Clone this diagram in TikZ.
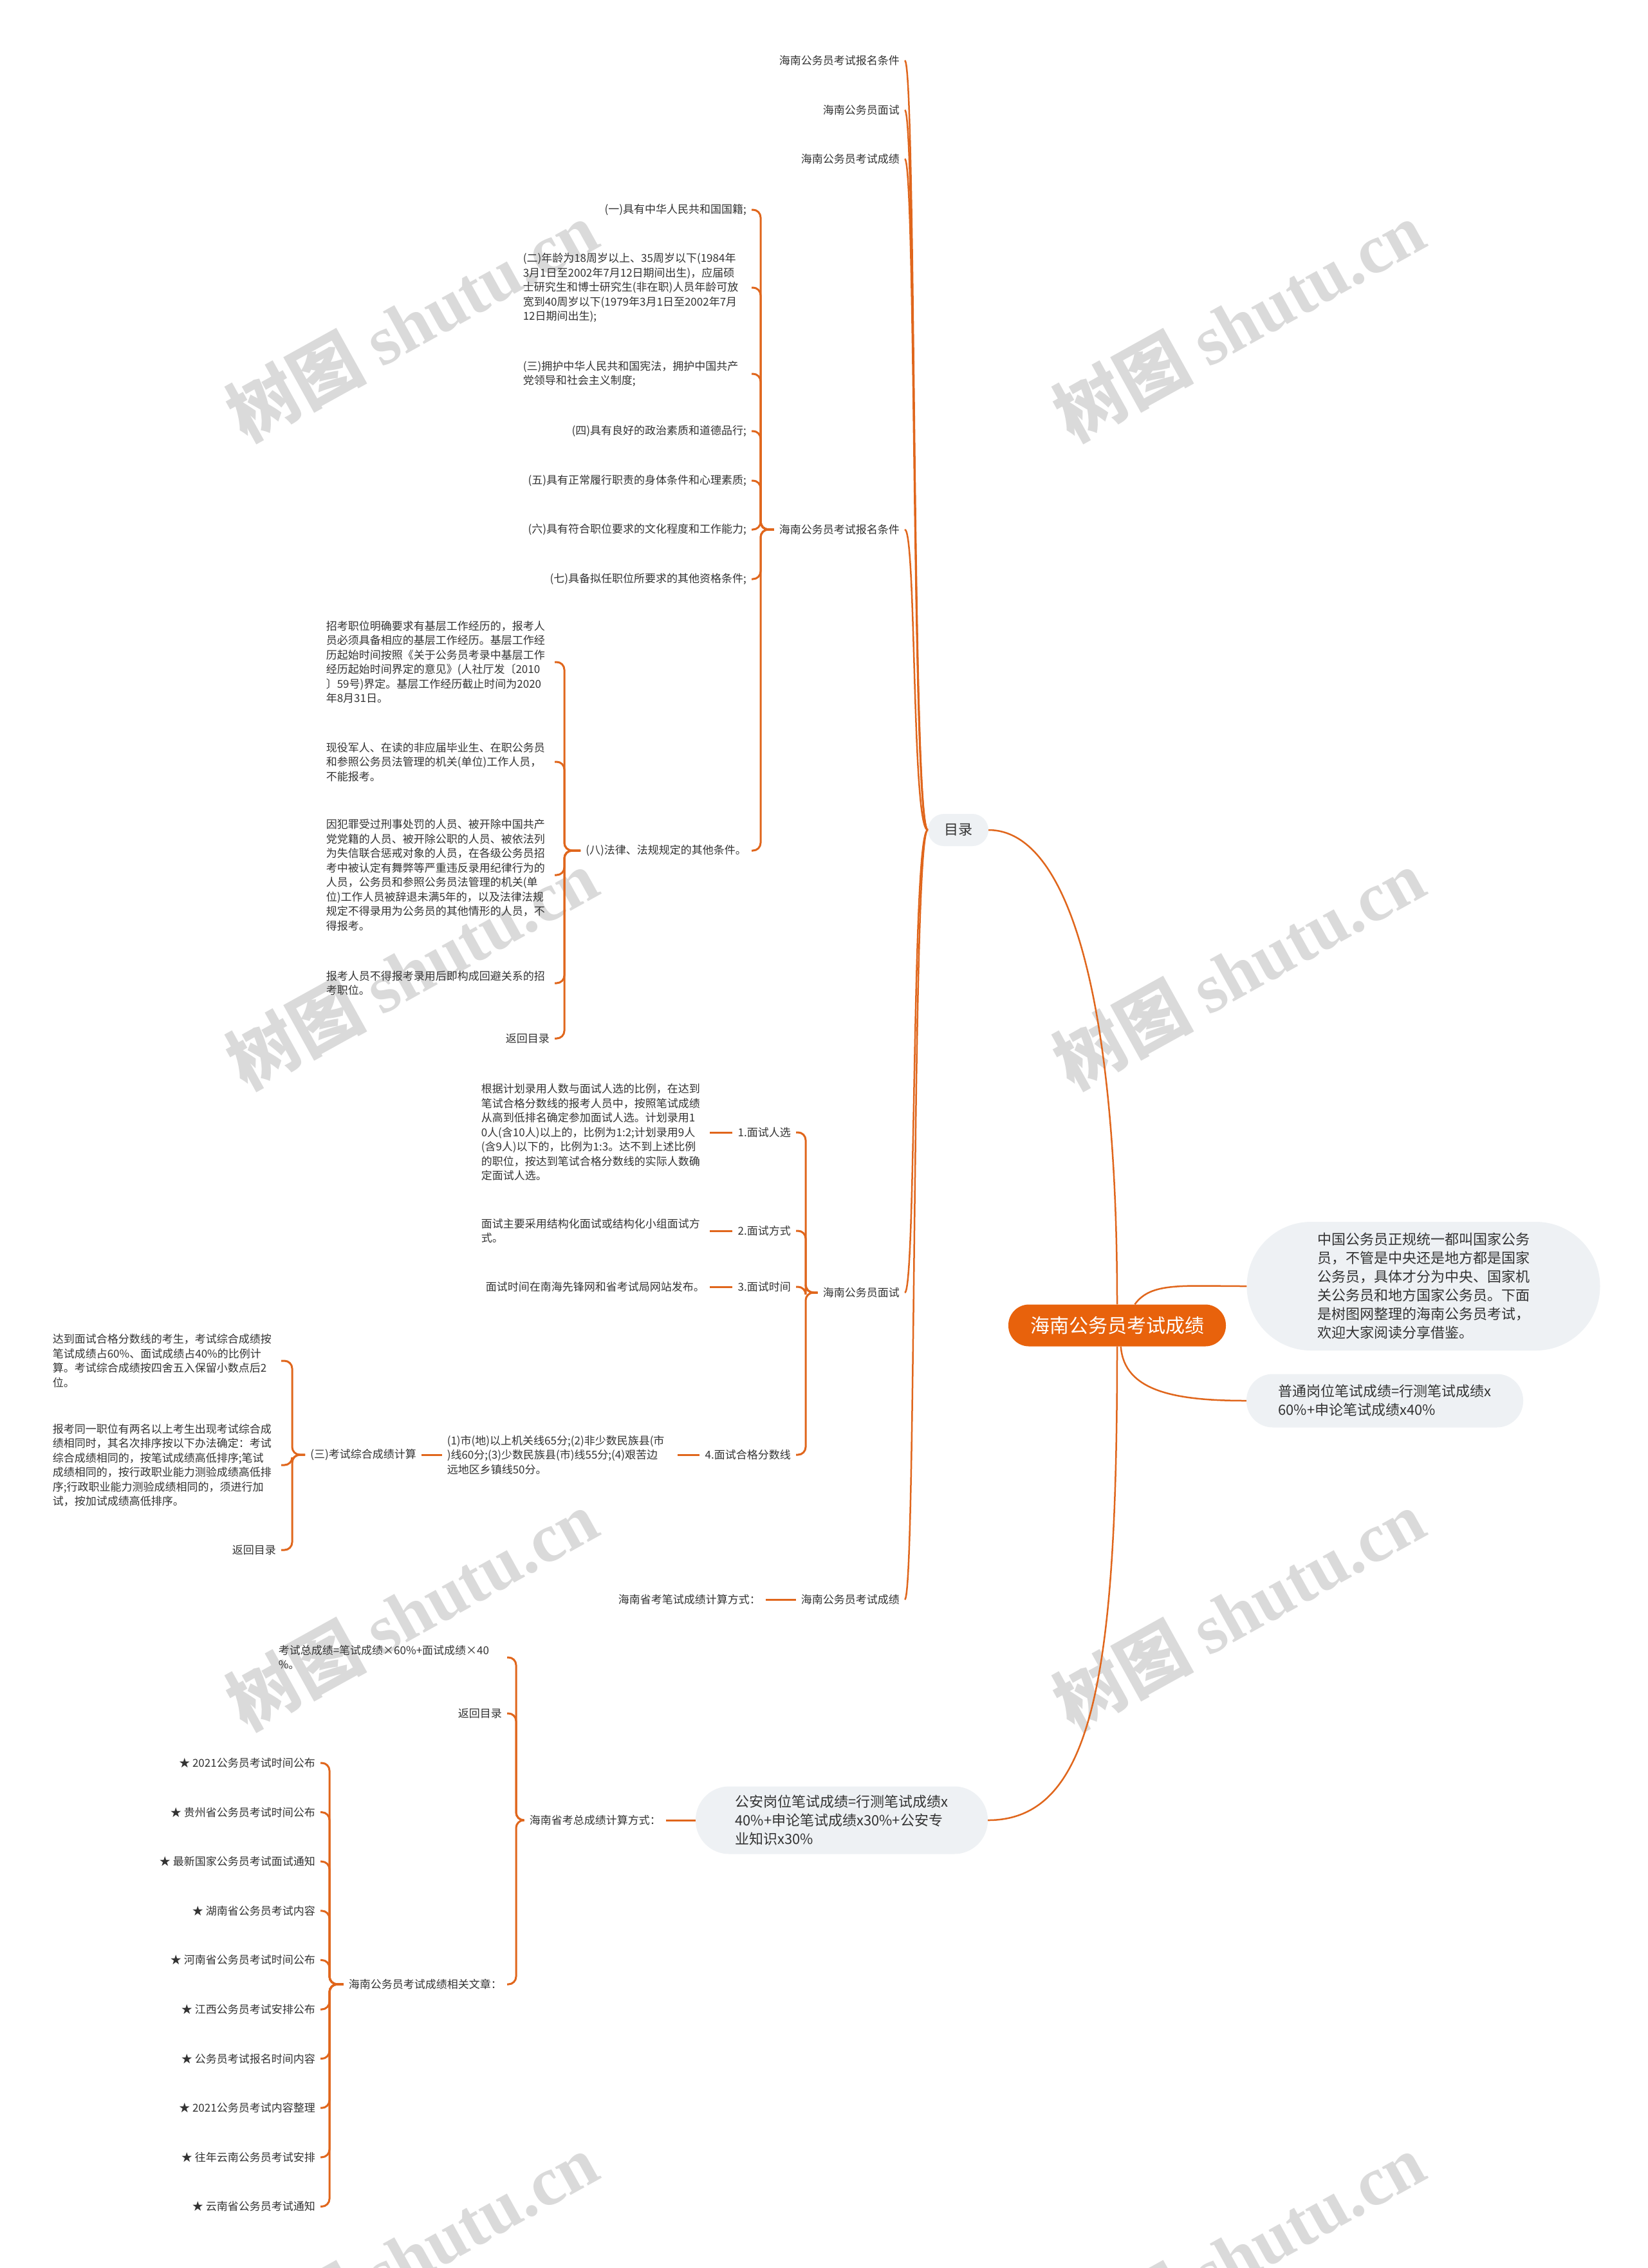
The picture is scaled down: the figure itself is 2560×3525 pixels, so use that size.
\documentclass[tikz,border=0pt]{standalone}
\usepackage{xcolor}
\usepackage{fontspec}
\setmainfont{Noto Sans CJK SC}
\newfontfamily\marklatin{Liberation Serif}
\definecolor{branchorange}{HTML}{E0661C}
\definecolor{rootorange}{HTML}{E8620C}
\definecolor{bubblegray}{HTML}{EEF1F4}
\definecolor{textgray}{HTML}{333333}
\definecolor{markgray}{HTML}{DADADA}

\begin{document}
\begin{tikzpicture}[x=1pt, y=-1pt,
  lbl/.style={text=textgray, font=\fontsize{17}{22.5}\selectfont, inner xsep=8pt},
  blk/.style={lbl, text width=347pt, align=left},
  bub/.style={fill=bubblegray, text=textgray, font=\fontsize{22}{29}\selectfont, align=left},
  brk/.style={branchorange, line width=3pt, rounded corners=12pt},
  curve/.style={branchorange, line width=2.5pt},
  wmark/.style={text=markgray, rotate=29, font=\fontsize{108}{108}\selectfont\bfseries}]
  \useasboundingbox (0,0) rectangle (2560,3525);
  \fill[white] (0,0) rectangle (2560,3525);

  \foreach \wx in {640,1925}
    \foreach \wy in {499,1506,2502,3502}
      \node[wmark] at (\wx,\wy) {树图 {\marklatin\bfseries shutu.cn}};

  \node[fill=rootorange, text=white, font=\fontsize{30}{36}\selectfont, minimum height=65pt, inner xsep=34pt, rounded corners=32pt] (root) at (1736,2060) {海南公务员考试成绩};
  \node[bub, minimum height=50pt, inner xsep=25pt, rounded corners=25pt] (mulu) at (1489,1290) {目录};
  \node[bub, minimum width=549pt, minimum height=200pt, rounded corners=100pt] (bub1) at (2212,1999) {中国公务员正规统一都叫国家公务\\员，不管是中央还是地方都是国家\\公务员，具体才分为中央、国家机\\关公务员和地方国家公务员。下面\\是树图网整理的海南公务员考试，\\欢迎大家阅读分享借鉴。};
  \node[bub, minimum width=430pt, minimum height=83pt, rounded corners=41pt] (bub2) at (2152,2177) {普通岗位笔试成绩=行测笔试成绩x\\60\%+申论笔试成绩x40\%};
  \node[bub, minimum width=454pt, minimum height=105pt, rounded corners=52pt] (bub3) at (1308,2829) {公安岗位笔试成绩=行测笔试成绩x\\40\%+申论笔试成绩x30\%+公安专\\业知识x30\%};

  \node[lbl, anchor=east] (top1) at (1406,94) {海南公务员考试报名条件};
  \node[lbl, anchor=east] (top2) at (1406,171) {海南公务员面试};
  \node[lbl, anchor=east] (top3) at (1406,247) {海南公务员考试成绩};
  \node[lbl, anchor=east] (reg) at (1406,823) {海南公务员考试报名条件};
  \node[lbl, anchor=east] (itv) at (1406,2009) {海南公务员面试};
  \node[lbl, anchor=east] (scr) at (1406,2486) {海南公务员考试成绩};

  \node[lbl, anchor=east] (c1) at (1168,326) {(一)具有中华人民共和国国籍;};
  \node[blk, anchor=east] (c2) at (1168,447) {(二)年龄为18周岁以上、35周岁以下(1984年\\3月1日至2002年7月12日期间出生)，应届硕\\士研究生和博士研究生(非在职)人员年龄可放\\宽到40周岁以下(1979年3月1日至2002年7月\\12日期间出生);};
  \node[blk, anchor=east] (c3) at (1168,581) {(三)拥护中华人民共和国宪法，拥护中国共产\\党领导和社会主义制度;};
  \node[lbl, anchor=east] (c4) at (1168,670) {(四)具有良好的政治素质和道德品行;};
  \node[lbl, anchor=east] (c5) at (1168,747) {(五)具有正常履行职责的身体条件和心理素质;};
  \node[lbl, anchor=east] (c6) at (1168,823) {(六)具有符合职位要求的文化程度和工作能力;};
  \node[lbl, anchor=east] (c7) at (1168,900) {(七)具备拟任职位所要求的其他资格条件;};
  \node[lbl, anchor=east] (c8) at (1168,1322) {(八)法律、法规规定的其他条件。};

  \node[blk, anchor=east] (d1) at (862,1029) {招考职位明确要求有基层工作经历的，报考人\\员必须具备相应的基层工作经历。基层工作经\\历起始时间按照《关于公务员考录中基层工作\\经历起始时间界定的意见》(人社厅发〔2010\\〕59号)界定。基层工作经历截止时间为2020\\年8月31日。};
  \node[blk, anchor=east] (d2) at (862,1184) {现役军人、在读的非应届毕业生、在职公务员\\和参照公务员法管理的机关(单位)工作人员，\\不能报考。};
  \node[blk, anchor=east] (d3) at (862,1360) {因犯罪受过刑事处罚的人员、被开除中国共产\\党党籍的人员、被开除公职的人员、被依法列\\为失信联合惩戒对象的人员，在各级公务员招\\考中被认定有舞弊等严重违反录用纪律行为的\\人员，公务员和参照公务员法管理的机关(单\\位)工作人员被辞退未满5年的，以及法律法规\\规定不得录用为公务员的其他情形的人员，不\\得报考。};
  \node[blk, anchor=east] (d4) at (862,1528) {报考人员不得报考录用后即构成回避关系的招\\考职位。};
  \node[lbl, anchor=east] (d5) at (862,1614) {返回目录};

  \node[lbl, anchor=east] (e1) at (1237,1760) {1.面试人选};
  \node[lbl, anchor=east] (e2) at (1237,1913) {2.面试方式};
  \node[lbl, anchor=east] (e3) at (1237,2000) {3.面试时间};
  \node[lbl, anchor=east] (e4) at (1237,2261) {4.面试合格分数线};
  \node[blk, anchor=east] (f1) at (1103,1760) {根据计划录用人数与面试人选的比例，在达到\\笔试合格分数线的报考人员中，按照笔试成绩\\从高到低排名确定参加面试人选。计划录用1\\0人(含10人)以上的，比例为1:2;计划录用9人\\(含9人)以下的，比例为1:3。达不到上述比例\\的职位，按达到笔试合格分数线的实际人数确\\定面试人选。};
  \node[blk, anchor=east] (f2) at (1103,1913) {面试主要采用结构化面试或结构化小组面试方\\式。};
  \node[lbl, anchor=east] (f3) at (1103,2000) {面试时间在南海先锋网和省考试局网站发布。};
  \node[blk, text width=350pt, anchor=east] (f4) at (1053,2261) {(1)市(地)以上机关线65分;(2)非少数民族县(市\\)线60分;(3)少数民族县(市)线55分;(4)艰苦边\\远地区乡镇线50分。};
  \node[lbl, anchor=east] (g0) at (655,2261) {(三)考试综合成绩计算};
  \node[blk, anchor=east] (g1) at (437,2115) {达到面试合格分数线的考生，考试综合成绩按\\笔试成绩占60\%、面试成绩占40\%的比例计\\算。考试综合成绩按四舍五入保留小数点后2\\位。};
  \node[blk, anchor=east] (g2) at (437,2277) {报考同一职位有两名以上考生出现考试综合成\\绩相同时，其名次排序按以下办法确定：考试\\综合成绩相同的，按笔试成绩高低排序;笔试\\成绩相同的，按行政职业能力测验成绩高低排\\序;行政职业能力测验成绩相同的，须进行加\\试，按加试成绩高低排序。};
  \node[lbl, anchor=east] (g3) at (437,2409) {返回目录};

  \node[lbl, anchor=east] (h1) at (1190,2486) {海南省考笔试成绩计算方式：};

  \node[lbl, anchor=east] (k0) at (1035,2829) {海南省考总成绩计算方式：};
  \node[blk, anchor=east] (k1) at (788,2576) {考试总成绩=笔试成绩×60\%+面试成绩×40\\\%。};
  \node[lbl, anchor=east] (k2) at (788,2663) {返回目录};
  \node[lbl, anchor=east] (k3) at (788,3084) {海南公务员考试成绩相关文章：};
  \foreach \txt [count=\i] in {2021公务员考试时间公布, 贵州省公务员考试时间公布, 最新国家公务员考试面试通知, 湖南省公务员考试内容, 河南省公务员考试时间公布, 江西公务员考试安排公布, 公务员考试报名时间内容, 2021公务员考试内容整理, 往年云南公务员考试安排, 云南省公务员考试通知}
    \node[lbl, anchor=east] (s\i) at (498,{2663.4+76.6*\i}) {★ \txt};

  \draw[curve] (root.north) .. controls (1736,1550) and (1660,1290) .. (mulu.east);
  \draw[curve] (root.50) .. controls +(25,-35) and +(-100,0) .. (bub1.west);
  \draw[curve] (root.-80) .. controls +(5,70) and +(-110,0) .. (bub2.west);
  \draw[curve] (root.south) .. controls (1736,2600) and (1700,2829) .. (bub3.east);
  \foreach \c in {top1,top2,top3,reg,itv,scr}
    \draw[curve] (mulu.west) .. controls +(-25,0) and +(18,0) .. (\c.east);

  \coordinate (regk) at (1182,823);
  \foreach \i in {1,...,8}
    \draw[brk] (reg.west) -- (regk) |- (c\i.east);
  \coordinate (lawk) at (877,1322);
  \foreach \i in {1,...,5}
    \draw[brk] (c8.west) -- (lawk) |- (d\i.east);
  \coordinate (itvk) at (1252,2009);
  \foreach \i in {1,...,4} {
    \draw[brk] (itv.west) -- (itvk) |- (e\i.east);
    \draw[brk] (e\i.west) -- (f\i.east);
  }
  \draw[brk] (f4.west) -- (g0.east);
  \coordinate (calck) at (454,2261);
  \foreach \i in {1,2,3}
    \draw[brk] (g0.west) -- (calck) |- (g\i.east);
  \draw[brk] (scr.west) -- (h1.east);
  \draw[brk] (bub3.west) -- (k0.east);
  \coordinate (totk) at (802,2829);
  \foreach \i in {1,2,3}
    \draw[brk] (k0.west) -- (totk) |- (k\i.east);
  \coordinate (artk) at (512,3084);
  \foreach \i in {1,...,10}
    \draw[brk] (k3.west) -- (artk) |- (s\i.east);
\end{tikzpicture}
\end{document}
